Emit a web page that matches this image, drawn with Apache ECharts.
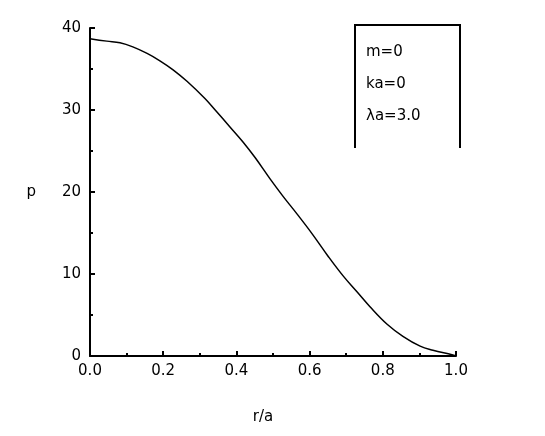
<!DOCTYPE html>
<html>
<head>
<meta charset="utf-8">
<script src="https://cdn.jsdelivr.net/npm/echarts@6/dist/echarts.min.js"></script>
<style>
  html, body { margin: 0; padding: 0; background: #fff; }
  #chart { width: 545px; height: 436px; }
</style>
</head>
<body>
<div id="chart"></div>
<script>
// r/a values and p
const rValues = [0.0, 0.046, 0.082, 0.117, 0.156, 0.191, 0.227, 0.265, 0.314, 0.342, 0.383, 0.418,
  0.451, 0.492, 0.527, 0.566, 0.607, 0.650, 0.691, 0.730, 0.765, 0.811, 0.855, 0.902, 0.937, 0.989, 1.0];
const pValues = [38.7, 38.4, 38.2, 37.7, 36.9, 36.0, 34.9, 33.5, 31.4, 30.0, 27.9, 26.1,
  24.2, 21.6, 19.5, 17.3, 14.9, 12.2, 9.8, 7.8, 6.0, 3.9, 2.4, 1.2, 0.7, 0.15, 0.0];
const legendLines = ['m=0', 'ka=0', 'λa=3.0'];

const font = 'DejaVu Sans';
const curve = rValues.map((r, i) => [r, pValues[i]]);

const option = {
  animation: false,
  backgroundColor: '#fff',
  grid: { left: 90, right: 89, top: 28, bottom: 80 },
  xAxis: {
    type: 'value',
    min: 0,
    max: 1,
    interval: 0.2,
    name: 'r/a',
    nameLocation: 'middle',
    nameGap: 54,
    nameTextStyle: { color: '#000', fontSize: 15, fontFamily: font, padding: [0, 20, 0, 0] },
    axisLine: { lineStyle: { color: '#000', width: 2 } },
    axisTick: { inside: true, length: 5, lineStyle: { color: '#000', width: 2 } },
    minorTick: { show: true, splitNumber: 2, length: 3, lineStyle: { color: '#000', width: 2 } },
    splitLine: { show: false },
    axisLabel: {
      color: '#000', fontSize: 15, fontFamily: font, margin: 8,
      formatter: v => v.toFixed(1)
    }
  },
  yAxis: {
    type: 'value',
    min: 0,
    max: 40,
    interval: 10,
    name: 'p',
    nameLocation: 'middle',
    nameRotate: 0,
    nameGap: 54,
    nameTextStyle: { color: '#000', fontSize: 15, fontFamily: font },
    axisLine: { lineStyle: { color: '#000', width: 2 } },
    axisTick: { inside: true, length: 5, lineStyle: { color: '#000', width: 2 } },
    minorTick: { show: true, splitNumber: 2, length: 3, lineStyle: { color: '#000', width: 2 } },
    splitLine: { show: false },
    axisLabel: { color: '#000', fontSize: 15, fontFamily: font, margin: 9 }
  },
  graphic: [
    // legend box: left, top and right border only
    { type: 'polyline', silent: true,
      shape: { points: [[355, 148], [355, 25], [460, 25], [460, 148]] },
      style: { stroke: '#000', lineWidth: 2, fill: null } },
    ...legendLines.map((t, i) => ({
      type: 'text', left: 366, top: 45 + i * 32,
      style: { text: t, fill: '#000', fontSize: 15, fontFamily: font }
    }))
  ],
  series: [{
    type: 'line',
    data: curve,
    smooth: 0.4,
    showSymbol: false,
    lineStyle: { color: '#000', width: 1.5 }
  }]
};

const chart = echarts.init(document.getElementById('chart'));
chart.setOption(option);
</script>
</body>
</html>
